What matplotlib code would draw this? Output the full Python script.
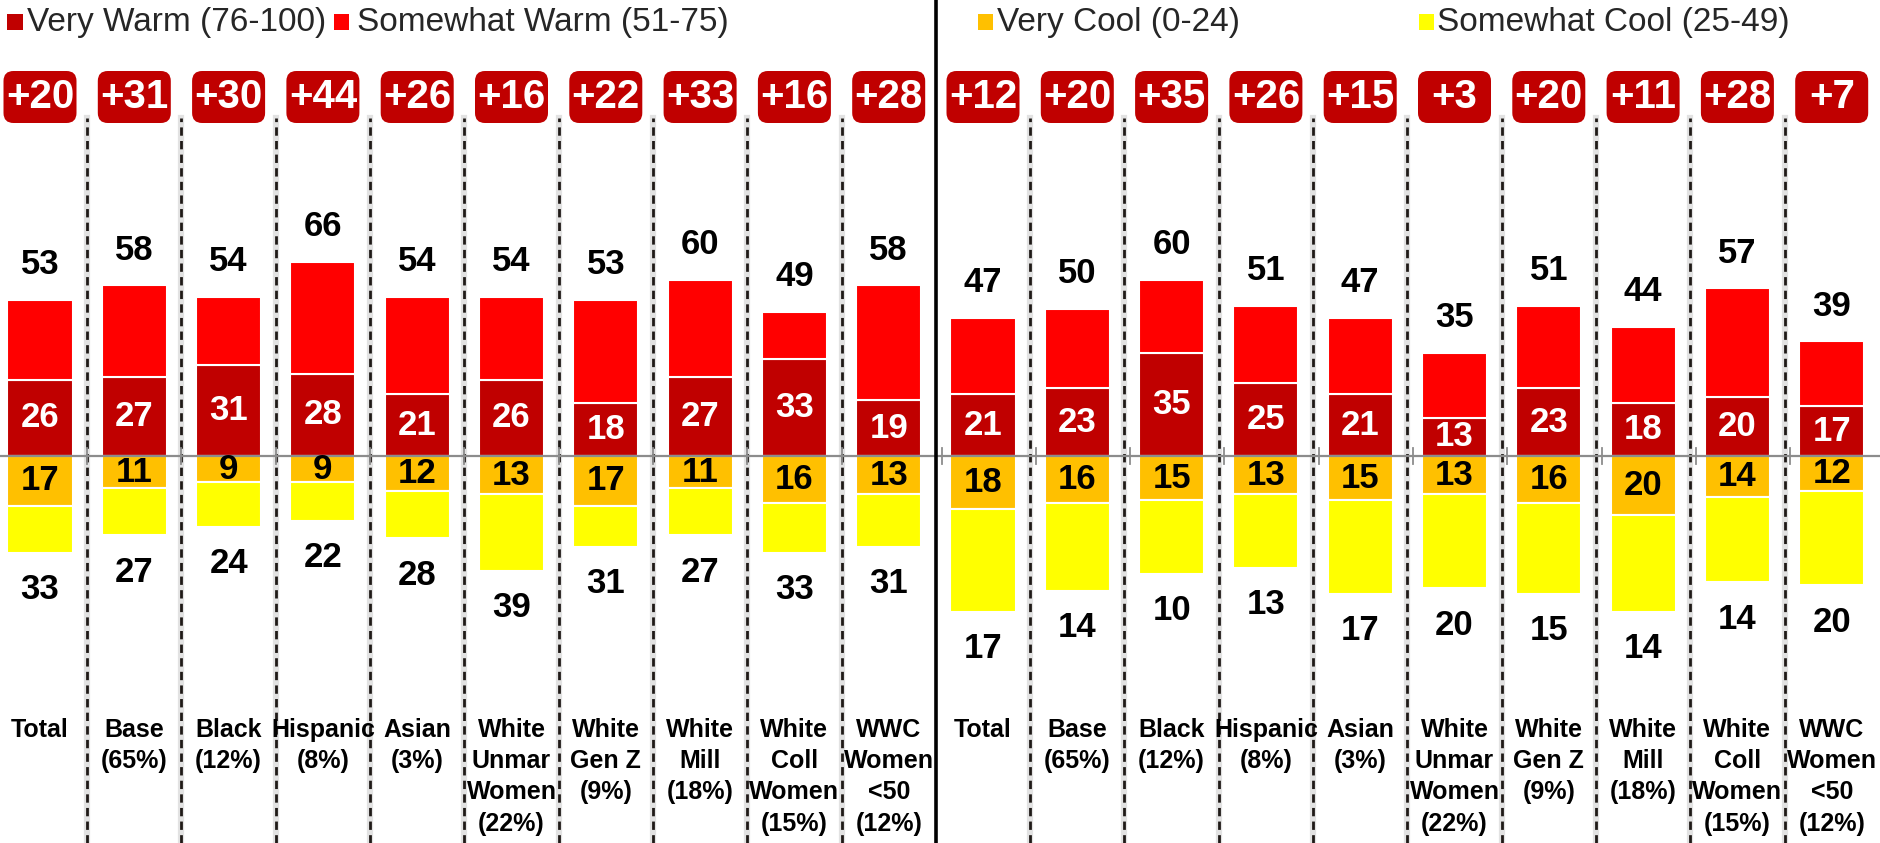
import numpy as np
import matplotlib.pyplot as plt
from matplotlib.patches import FancyBboxPatch, Rectangle

plt.rcParams['font.family'] = ['Liberation Sans Narrow', 'Liberation Sans', 'DejaVu Sans']

# groups (left panel, then right panel)
groups = ['Total', 'Base\n(65%)', 'Black\n(12%)', 'Hispanic\n(8%)', 'Asian\n(3%)',
          'White\nUnmar\nWomen\n(22%)', 'White\nGen Z\n(9%)', 'White\nMill\n(18%)',
          'White\nColl\nWomen\n(15%)', 'WWC\nWomen\n<50\n(12%)']
labels = groups + groups

net = [20, 31, 30, 44, 26, 16, 22, 33, 16, 28,
       12, 20, 35, 26, 15, 3, 20, 11, 28, 7]
warm_total = [53, 58, 54, 66, 54, 54, 53, 60, 49, 58,
              47, 50, 60, 51, 47, 35, 51, 44, 57, 39]
very_warm = [26, 27, 31, 28, 21, 26, 18, 27, 33, 19,
             21, 23, 35, 25, 21, 13, 23, 18, 20, 17]
very_cool = [17, 11, 9, 9, 12, 13, 17, 11, 16, 13,
             18, 16, 15, 13, 15, 13, 16, 20, 14, 12]
# yellow segment as drawn in the picture
somewhat_cool_bar = [16, 16, 15, 13, 16, 26, 14, 16, 17, 18,
                     35, 30, 25, 25, 32, 32, 31, 33, 29, 32]
cool_label = [33, 27, 24, 22, 28, 39, 31, 27, 33, 31,
              17, 14, 10, 13, 17, 20, 15, 14, 14, 20]

c_vwarm = '#C00000'
c_swarm = '#FF0000'
c_vcool = '#FFC000'
c_scool = '#FFFF00'

W, H = 1880, 843
px_x = 94.3      # pixels per group
px_y = 2.94      # pixels per point
base_px = 456    # baseline from top
left_px = 40

fig = plt.figure(figsize=(W / 100, H / 100), dpi=100)
ax = fig.add_axes([0, 0, 1, 1])
ax.set_xlim(-left_px / px_x, (W - left_px) / px_x)
ax.set_ylim(-(H - base_px) / px_y, base_px / px_y)
ax.axis('off')

x = np.arange(len(labels))
vw = np.array(very_warm)
sw = np.array(warm_total) - vw
vc = np.array(very_cool)
sc = np.array(somewhat_cool_bar)

bw = 0.69
ax.bar(x, vw, width=bw, color=c_vwarm, edgecolor='white', linewidth=1.5, zorder=2)
ax.bar(x, sw, bottom=vw, width=bw, color=c_swarm, edgecolor='white', linewidth=1.5, zorder=2)
ax.bar(x, -vc, width=bw, color=c_vcool, edgecolor='white', linewidth=1.5, zorder=2)
ax.bar(x, -sc, bottom=-vc, width=bw, color=c_scool, edgecolor='white', linewidth=1.5, zorder=2)

# baseline + little ticks
ax.axhline(0, color='#8c8c8c', lw=1.6, zorder=4)
for b in np.arange(len(labels) - 1) + 0.5:
    off = 0.06 if b > 9 else 0.0
    ax.plot([b + off, b + off], [-2.7, 2.7], color='#8c8c8c', lw=1.3, zorder=4)

# separators
ylo = ax.get_ylim()[0]
for b in np.arange(len(labels) - 1) + 0.5:
    if b == 9.5:
        continue
    ax.plot([b, b], [ylo, 115], color='#8c8c8c', lw=4.5, alpha=0.25, zorder=1)
    ax.plot([b, b], [ylo, 115], color='#1f1a17', lw=2.0, linestyle=(0, (3.0, 1.9)), zorder=3)
ax.axvline(9.5, color='black', lw=2.6, zorder=5)

# value labels
for i in range(len(labels)):
    ax.text(x[i], warm_total[i] + 12, str(warm_total[i]), ha='center', va='center',
            fontsize=25, fontweight='bold', color='black')
    ax.text(x[i], vw[i] / 2, str(vw[i]), ha='center', va='center',
            fontsize=25, fontweight='bold', color='white', zorder=5)
    ax.text(x[i], -vc[i] / 2, str(vc[i]), ha='center', va='center',
            fontsize=25, fontweight='bold', color='black', zorder=5)
    ax.text(x[i], -(vc[i] + sc[i]) - 12.5, str(cool_label[i]), ha='center', va='center',
            fontsize=25, fontweight='bold', color='black')

# net badges
bxw = 73 / px_x
bxh = 52 / px_y
byc = (base_px - 97) / px_y
for i in range(len(labels)):
    box = FancyBboxPatch((x[i] - bxw / 2, byc - bxh / 2), bxw, bxh,
                         boxstyle='round,pad=0,rounding_size=%.3f' % (10 / px_x),
                         mutation_aspect=px_x / px_y, fc=c_vwarm, ec='none', zorder=6)
    ax.add_patch(box)
    ax.text(x[i], byc, '+%d' % net[i], ha='center', va='center', fontsize=29,
            fontweight='bold', color='white', zorder=7)

# category labels
for i in range(len(labels)):
    ax.text(x[i], (base_px - 718) / px_y, labels[i], ha='center', va='top',
            fontsize=18, fontweight='bold', color='black', linespacing=1.38)

# legend along the top
legend_items = [('Very Warm (76-100)', c_vwarm, 15, 27),
                ('Somewhat Warm (51-75)', c_swarm, 341, 357),
                ('Very Cool (0-24)', c_vcool, 986, 997),
                ('Somewhat Cool (25-49)', c_scool, 1426, 1437)]
ly = 1 - 22 / H
for name, col, sx, tx in legend_items:
    fig.patches.append(Rectangle(((sx - 7.5) / W, ly - 7.5 / H), 15 / W, 15 / H,
                                 transform=fig.transFigure, fc=col, ec='none'))
    fig.text(tx / W, ly, name, ha='left', va='center', fontsize=24, color='#262626')

plt.savefig('out.png', dpi=100)
